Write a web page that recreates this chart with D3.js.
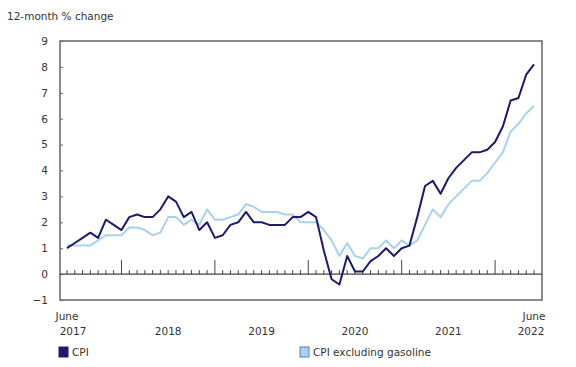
<!DOCTYPE html>
<html>
<head>
<meta charset="utf-8">
<script src="https://cdn.jsdelivr.net/npm/d3@7"></script>
<style>
  body { margin: 0; background: #fff; }
  svg text { font-family: "DejaVu Sans", Verdana, sans-serif; font-size: 10.5px; fill: #333; }
</style>
</head>
<body>
<div id="chart"></div>
<script>
// Monthly 12-month % change, June 2017 to June 2022
const startYear = 2017, startMonth = 5; // June (0-based)

const cpi = [
    1.0, 1.2, 1.4, 1.6, 1.4, 2.1, 1.9,
    1.7, 2.2, 2.3, 2.2, 2.2, 2.5, 3.0, 2.8, 2.2, 2.4, 1.7, 2.0,
    1.4, 1.5, 1.9, 2.0, 2.4, 2.0, 2.0, 1.9, 1.9, 1.9, 2.2, 2.2,
    2.4, 2.2, 0.9, -0.2, -0.4, 0.7, 0.1, 0.1, 0.5, 0.7, 1.0, 0.7,
    1.0, 1.1, 2.2, 3.4, 3.6, 3.1, 3.7, 4.1, 4.4, 4.7, 4.7, 4.8,
    5.1, 5.7, 6.7, 6.8, 7.7, 8.1
];

const cpiExGas = [
    1.1, 1.1, 1.1, 1.1, 1.3, 1.5, 1.5,
    1.5, 1.8, 1.8, 1.7, 1.5, 1.6, 2.2, 2.2, 1.9, 2.1, 1.9, 2.5,
    2.1, 2.1, 2.2, 2.3, 2.7, 2.6, 2.4, 2.4, 2.4, 2.3, 2.3, 2.0,
    2.0, 2.0, 1.7, 1.3, 0.7, 1.2, 0.7, 0.6, 1.0, 1.0, 1.3, 1.0,
    1.3, 1.1, 1.3, 1.9, 2.5, 2.2, 2.7, 3.0, 3.3, 3.6, 3.6, 3.9,
    4.3, 4.7, 5.5, 5.8, 6.2, 6.5
];

const yTicks = [-1, 0, 1, 2, 3, 4, 5, 6, 7, 8, 9];
const yearLabels = ['2017', '2018', '2019', '2020', '2021', '2022'];
const seriesNames = ['CPI', 'CPI excluding gasoline'];
const colors = ['#1b1a6b', '#a9d1ee'];

const width = 576, height = 367;
const plot = { left: 60, right: 542, top: 41, bottom: 300 };

const svg = d3.select('#chart').append('svg')
    .attr('width', width)
    .attr('height', height);

const x = d3.scaleLinear()
    .domain([0, cpi.length - 1])
    .range([67, 534]);

const y = d3.scaleLinear()
    .domain([-1, 9])
    .range([plot.bottom, plot.top]);

// Title
svg.append('text')
    .attr('x', 7)
    .attr('y', 20)
    .text('12-month % change');

// Frame
svg.append('rect')
    .attr('x', plot.left)
    .attr('y', plot.top)
    .attr('width', plot.right - plot.left)
    .attr('height', plot.bottom - plot.top)
    .attr('fill', 'none')
    .attr('stroke', '#666')
    .attr('stroke-width', 1.5);

// Y axis (ticks point inwards)
const yAxis = svg.append('g')
    .attr('transform', `translate(${plot.left},0)`)
    .call(d3.axisLeft(y).tickValues(yTicks).tickSizeInner(-3).tickSizeOuter(0).tickPadding(12));
yAxis.select('.domain').remove();
yAxis.selectAll('line').attr('stroke', '#666');
yAxis.selectAll('text').attr('fill', '#333').style('font-size', '10.5px');

// Zero line with monthly ticks, longer ones at January
const months = d3.range(cpi.length);
const isJan = i => (startMonth + i) % 12 === 0;
const zero = svg.append('g')
    .attr('transform', `translate(0,${y(0)})`);
zero.append('line')
    .attr('x1', plot.left).attr('x2', plot.right)
    .attr('stroke', '#444').attr('stroke-width', 1.2);
zero.selectAll('.tick')
    .data(months)
    .enter()
    .append('line')
    .attr('x1', d => x(d)).attr('x2', d => x(d))
    .attr('y1', 0)
    .attr('y2', d => isJan(d) ? -14 : -4)
    .attr('stroke', '#444')
    .attr('stroke-width', 1);

// X labels: first and last at June, the others at mid-year (July)
const last = cpi.length - 1;
const yearPos = yearLabels.map((label, i) => {
    if (i === 0) return { label, idx: 0, dx: 6 };
    if (i === yearLabels.length - 1) return { label, idx: last, dx: -3 };
    return { label, idx: (12 - startMonth) + 12 * (+label - startYear - 1) + 6, dx: 0 };
});
svg.append('g').selectAll('text')
    .data(yearPos)
    .enter()
    .append('text')
    .attr('x', d => x(d.idx) + d.dx)
    .attr('y', 335)
    .attr('text-anchor', 'middle')
    .text(d => d.label);
svg.append('g').selectAll('text')
    .data([0, last])
    .enter()
    .append('text')
    .attr('x', d => x(d))
    .attr('y', 320)
    .attr('text-anchor', 'middle')
    .text('June');

// Lines
const line = d3.line()
    .x((d, i) => x(i))
    .y(d => y(d));

[[cpiExGas, colors[1]], [cpi, colors[0]]].forEach(([series, color]) => {
    svg.append('path')
        .datum(series)
        .attr('fill', 'none')
        .attr('stroke', color)
        .attr('stroke-width', 2)
        .attr('stroke-linejoin', 'round')
        .attr('d', line);
});

// Legend
const legendX = [59, 300];
const legend = svg.append('g').selectAll('g')
    .data(seriesNames)
    .enter()
    .append('g')
    .attr('transform', (d, i) => `translate(${legendX[i]},347)`);
legend.append('rect')
    .attr('width', 9).attr('height', 10)
    .attr('fill', (d, i) => colors[i])
    .attr('stroke', (d, i) => i === 0 ? colors[0] : '#5a7fa0')
    .attr('stroke-width', 1);
legend.append('text')
    .attr('x', 13)
    .attr('y', 9)
    .text(d => d);
</script>
</body>
</html>
